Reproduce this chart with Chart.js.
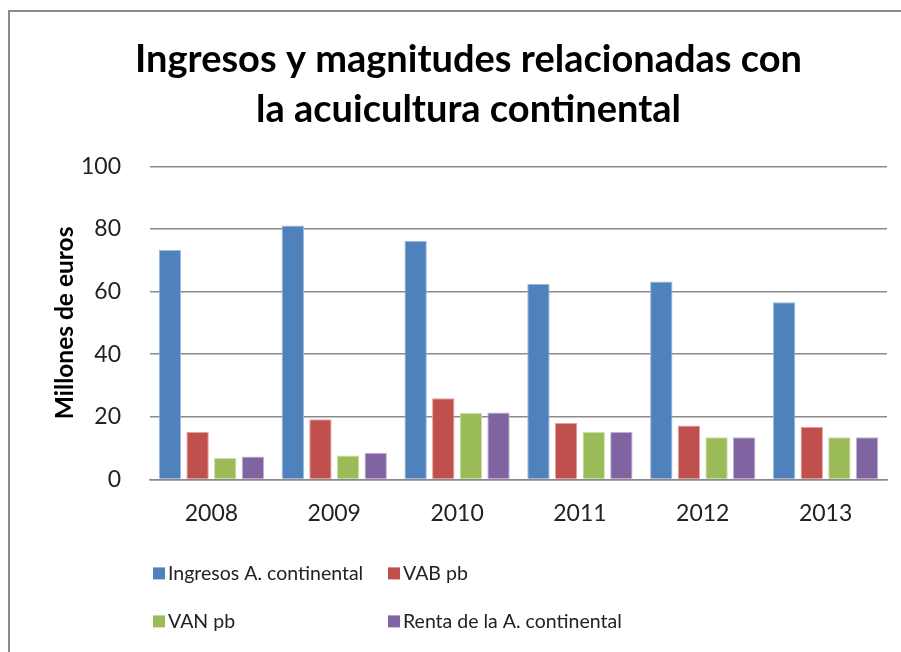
<!DOCTYPE html>
<html>
<head>
<meta charset="utf-8">
<script src="https://cdn.jsdelivr.net/npm/chart.js@4"></script>
<style>
  html, body { margin: 0; padding: 0; background: #fff; }
  #wrap { position: relative; width: 901px; height: 652px; overflow: hidden; }
  #frame { position: absolute; left: 8px; top: 10px; width: 960px; height: 700px;
           border: 2px solid #8a8a8a; pointer-events: none; }
</style>
</head>
<body>
<div id="wrap">
  <canvas id="barChart" width="901" height="652"></canvas>
  <div id="frame"></div>
</div>
<script>
// data
var years = ["2008", "2009", "2010", "2011", "2012", "2013"];
var ingresos = [73.3, 81.1, 76.2, 62.5, 63.2, 56.6];
var vab = [15.1, 19.2, 25.9, 18.0, 17.2, 16.8];
var van = [6.8, 7.6, 21.2, 15.1, 13.5, 13.5];
var renta = [7.3, 8.5, 21.4, 15.1, 13.5, 13.5];
var yTicks = [0, 20, 40, 60, 80, 100];

var font = "Lato, 'Liberation Sans', sans-serif";
Chart.defaults.font.family = font;
Chart.defaults.color = "#222";

// two-column legend below the plot, like the Excel original
var gridLegend = {
  id: "gridLegend",
  afterDraw: function (chart) {
    var ctx = chart.ctx;
    var area = chart.chartArea;
    var cols = [area.left + 3, area.left + 238];
    var rows = [area.bottom + 94, area.bottom + 142];
    ctx.save();
    ctx.font = "19.5px " + font;
    ctx.textBaseline = "middle";
    ctx.textAlign = "left";
    chart.data.datasets.forEach(function (ds, i) {
      var x = cols[i % 2];
      var y = rows[Math.floor(i / 2)];
      ctx.fillStyle = ds.backgroundColor;
      ctx.fillRect(x, y - 6, 12, 12);
      ctx.fillStyle = "#222";
      ctx.fillText(ds.label, x + 15, y);
    });
    ctx.restore();
  }
};

var ctxBar = document.getElementById("barChart").getContext("2d");

new Chart(ctxBar, {
  type: "bar",
  data: {
    labels: years,
    datasets: [
      { label: "Ingresos A. continental", data: ingresos, backgroundColor: "#4F81BD", borderColor: "#9DB9DC" },
      { label: "VAB pb", data: vab, backgroundColor: "#C0504D", borderColor: "#E0A3A1" },
      { label: "VAN pb", data: van, backgroundColor: "#9BBB59", borderColor: "#CDDDAB" },
      { label: "Renta de la A. continental", data: renta, backgroundColor: "#8064A2", borderColor: "#BFB1D1" },
    ],
  },
  options: {
    responsive: false,
    animation: false,
    datasets: {
      bar: { categoryPercentage: 0.9, barPercentage: 0.81, borderWidth: 1 }
    },
    layout: { padding: { top: 25, right: 14, bottom: 113, left: 50 } },
    plugins: {
      legend: { display: false },
      tooltip: { enabled: false },
      title: {
        display: true,
        text: ["Ingresos y magnitudes relacionadas con", "la acuicultura continental"],
        font: { size: 38, weight: "bold", lineHeight: 1.32 },
        color: "#000",
        padding: { top: 10, bottom: 31 },
      },
    },
    scales: {
      x: {
        grid: { display: false },
        border: { display: true, color: "#8a8a8a", width: 1.5 },
        ticks: { font: { size: 23 }, padding: 12, color: "#222" },
      },
      y: {
        min: 0,
        max: 100,
        afterBuildTicks: function (scale) {
          scale.ticks = yTicks.map(function (v) { return { value: v }; });
        },
        afterFit: function (scale) {
          scale.width = 100;
        },
        grid: { color: "#8a8a8a", lineWidth: 1.5, drawTicks: false },
        border: { display: false },
        ticks: { font: { size: 23 }, padding: 29, color: "#222" },
        title: {
          display: true,
          text: "Millones de euros",
          font: { size: 24.5, weight: "bold" },
          color: "#000",
          padding: { top: 0, bottom: 8 },
        },
      },
    },
  },
  plugins: [gridLegend],
});
</script>
</body>
</html>
